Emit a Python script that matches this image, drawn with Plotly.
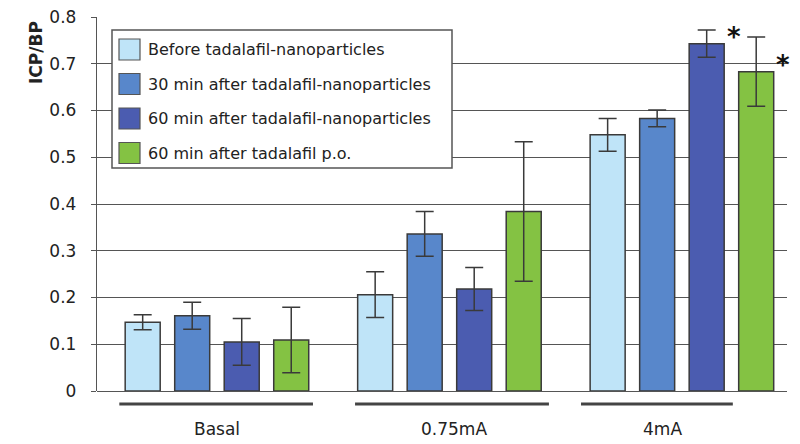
import plotly.graph_objects as go

categories = ["Basal", "0.75mA", "4mA"]
series_names = [
    "Before tadalafil-nanoparticles",
    "30 min after tadalafil-nanoparticles",
    "60 min after tadalafil-nanoparticles",
    "60 min after tadalafil p.o.",
]
before_np = [0.147, 0.206, 0.548]
after30_np = [0.161, 0.336, 0.583]
after60_np = [0.105, 0.218, 0.743]
after60_po = [0.109, 0.384, 0.683]
err_before_np = [0.016, 0.049, 0.035]
err_after30_np = [0.029, 0.048, 0.018]
err_after60_np = [0.050, 0.046, 0.029]
err_after60_po = [0.070, 0.149, 0.074]
y_ticks = [0, 0.1, 0.2, 0.3, 0.4, 0.5, 0.6, 0.7, 0.8]
y_ticktext = ["0", "0.1", "0.2", "0.3", "0.4", "0.5", "0.6", "0.7", "0.8"]
significant = [(2, 2), (2, 3)]  # (category index, series index) marked with *

colors = ["#BFE4F8", "#5887CB", "#4B5CB0", "#84C243"]
values = [before_np, after30_np, after60_np, after60_po]
errors = [err_before_np, err_after30_np, err_after60_np, err_after60_po]

FONT = "DejaVu Sans"
DARK = "#3a3a3a"
OFF = 8  # page body margin
W, H = 800 - OFF, 444 - OFF
L, R, T, B = 97 - OFF, 787 - OFF, 17 - OFF, 391 - OFF
BARGAP = 0.148
GROUPGAP = 0.293
XR = [-0.516, 2.452]


def px_x(p):
    return (p - OFF - L) / (R - L)


def px_y(p):
    return (B - (p - OFF)) / (B - T)


xpos = list(range(len(categories)))
fig = go.Figure()
for name, vals, errs, col in zip(series_names, values, errors, colors):
    fig.add_trace(go.Bar(
        x=xpos, y=vals, name=name,
        marker=dict(color=col, line=dict(color=DARK, width=1.5)),
        error_y=dict(type="data", array=errs, visible=True,
                     color=DARK, thickness=1.5, width=9),
        showlegend=False,
    ))

slot = (1 - BARGAP) / len(series_names)

# group underline & labels
line_spans = [(-0.42, 0.413), (0.594, 1.428), (1.566, 2.219)]
label_x = [0.0, 1.02, 1.918]
for (x0, x1), lx, cat in zip(line_spans, label_x, categories):
    fig.add_shape(type="line", xref="x", yref="paper", x0=x0, x1=x1,
                  y0=px_y(404), y1=px_y(404),
                  line=dict(color="#444", width=3))
    fig.add_annotation(x=lx, xref="x", y=px_y(429), yref="paper",
                       text=cat, showarrow=False, yanchor="middle",
                       font=dict(family=FONT, size=17, color="#222"))

# asterisks
for ci, si in significant:
    bx = ci + (si - 1.5) * slot
    fig.add_annotation(x=bx, xref="x", y=values[si][ci], yref="y",
                       text="<b>*</b>", showarrow=False,
                       xshift=27, yshift=7,
                       font=dict(family=FONT, size=26, color="#111"))

# manual legend
fig.add_shape(type="rect", xref="paper", yref="paper",
              x0=px_x(112), x1=px_x(452), y0=px_y(30), y1=px_y(168),
              line=dict(color="#555", width=1.5), fillcolor="white", layer="above")
for i, (name, col) in enumerate(zip(series_names, colors)):
    cy = 49.5 + 34.5 * i
    fig.add_shape(type="rect", xref="paper", yref="paper",
                  x0=px_x(119), x1=px_x(140), y0=px_y(cy - 10.5), y1=px_y(cy + 10.5),
                  line=dict(color="#555", width=1.2), fillcolor=col, layer="above")
    fig.add_annotation(x=px_x(146), xref="paper", y=px_y(cy), yref="paper",
                       text=name, showarrow=False, xanchor="left", yanchor="middle",
                       font=dict(family=FONT, size=16, color="#222"))

# y title
fig.add_annotation(x=px_x(36), xref="paper", y=px_y(53), yref="paper",
                   text="<b>ICP/BP</b>", textangle=-90, showarrow=False,
                   xanchor="center", yanchor="middle",
                   font=dict(family=FONT, size=17, color="#222"))

fig.update_layout(
    width=W, height=H,
    margin=dict(l=L, r=W - R, t=T, b=H - B, autoexpand=False),
    paper_bgcolor="white", plot_bgcolor="white",
    barmode="group", bargap=BARGAP, bargroupgap=GROUPGAP,
    showlegend=False,
    xaxis=dict(range=XR, showticklabels=False, showgrid=False, zeroline=False,
               showline=False, ticks="", automargin=False),
    yaxis=dict(range=[0, 0.8], tickvals=y_ticks, ticktext=y_ticktext,
               automargin=False, ticklabeloverflow="allow",
               showgrid=True, gridcolor="#555", gridwidth=1.4,
               zeroline=True, zerolinecolor="#555", zerolinewidth=1.4,
               showline=True, linecolor="#555", linewidth=1.4,
               ticks="outside", ticklen=5, tickcolor="#555", tickwidth=1.4,
               ticklabelstandoff=11,
               tickfont=dict(family=FONT, size=17, color="#222")),
)

fig.write_html("out.html")
